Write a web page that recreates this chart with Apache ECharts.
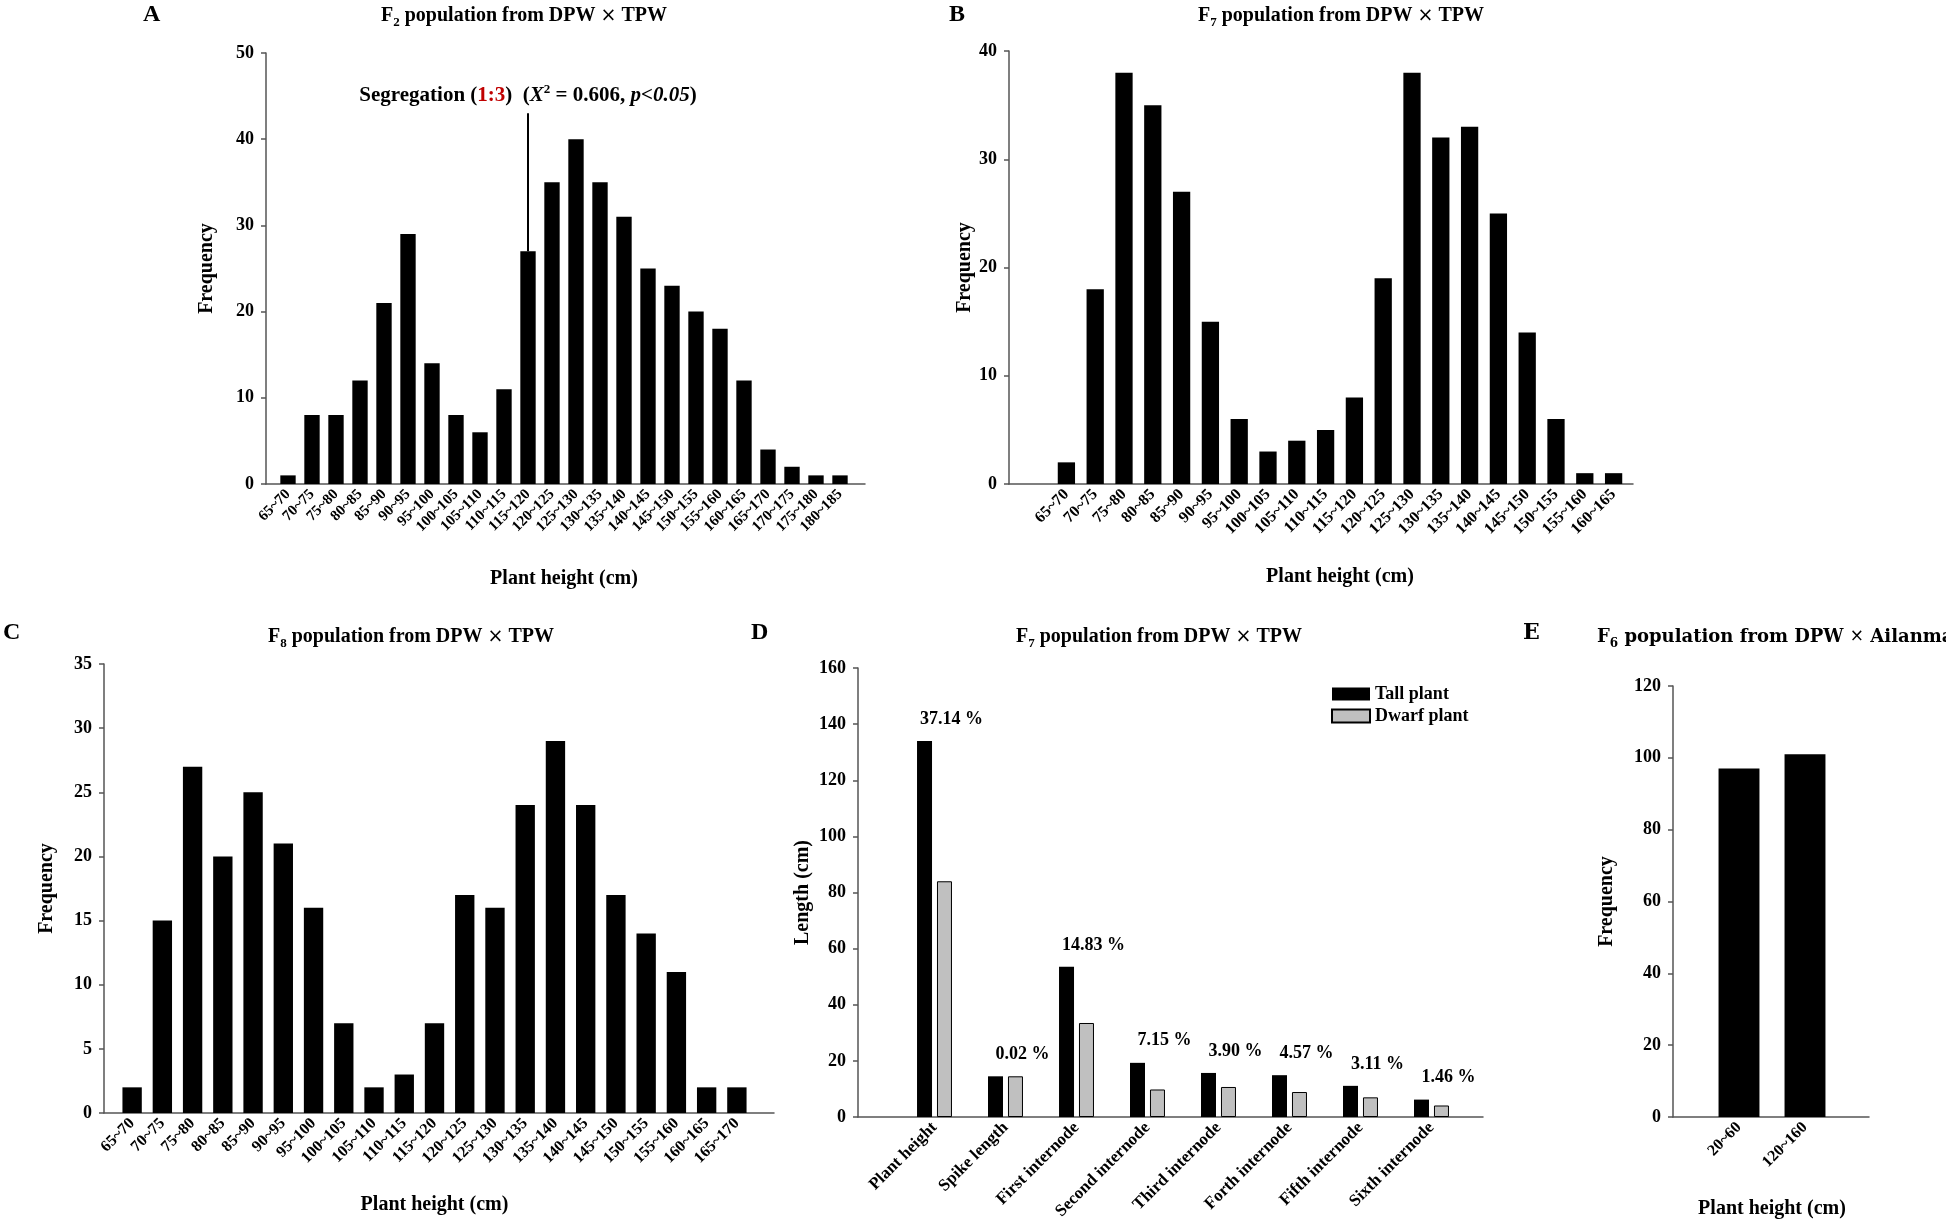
<!DOCTYPE html>
<html>
<head>
<meta charset="utf-8">
<script src="https://cdn.jsdelivr.net/npm/echarts@6/dist/echarts.min.js"></script>
<style>
html,body{margin:0;padding:0;background:#fff;}
#c{width:1946px;height:1226px;}
</style>
</head>
<body>
<div id="c"></div>
<script>
// ---------------- DATA ----------------
const catsA = ['65~70','70~75','75~80','80~85','85~90','90~95','95~100','100~105','105~110','110~115','115~120','120~125','125~130','130~135','135~140','140~145','145~150','150~155','155~160','160~165','165~170','170~175','175~180','180~185'];
const valsA = [1,8,8,12,21,29,14,8,6,11,27,35,40,35,31,25,23,20,18,12,4,2,1,1];
const ticksA = [0,10,20,30,40,50];

const catsB = ['65~70','70~75','75~80','80~85','85~90','90~95','95~100','100~105','105~110','110~115','115~120','120~125','125~130','130~135','135~140','140~145','145~150','150~155','155~160','160~165'];
const valsB = [2,18,38,35,27,15,6,3,4,5,8,19,38,32,33,25,14,6,1,1];
const ticksB = [0,10,20,30,40];

const catsC = ['65~70','70~75','75~80','80~85','85~90','90~95','95~100','100~105','105~110','110~115','115~120','120~125','125~130','130~135','135~140','140~145','145~150','150~155','155~160','160~165','165~170'];
const valsC = [2,15,27,20,25,21,16,7,2,3,7,17,16,24,29,24,17,14,11,2,2];
const ticksC = [0,5,10,15,20,25,30,35];

const traitsD = ['Plant height','Spike length','First internode','Second internode','Third internode','Forth internode','Fifth internode','Sixth internode'];
const tallD  = [134,14.5,53.5,19.3,15.7,14.9,11.1,6.2];
const dwarfD = [84,14.5,33.5,9.8,10.7,8.9,7.0,4.1];
const pctD   = ['37.14 %','0.02 %','14.83 %','7.15 %','3.90 %','4.57 %','3.11 %','1.46 %'];
const ticksD = [0,20,40,60,80,100,120,140,160];

const catsE = ['20~60','120~160'];
const valsE = [97,101];
const ticksE = [0,20,40,60,80,100,120];

// segregation annotation on panel A (category, start value, end value)
const annotCat = '115~120';
const annotFrom = 43;
const annotTo = 27;

// ---------------- STYLE ----------------
const FF = "'Liberation Serif','Times New Roman',serif";
const AX = '#555';

const chart = echarts.init(document.getElementById('c'));
const grid = [], xAxis = [], yAxis = [], series = [];

function panel(cfg) {
  const oi = grid.length, ii = oi + 1;
  const ticks = cfg.ticks;
  const ymin = ticks[0], ymax = ticks[ticks.length - 1], step = ticks[1] - ticks[0];
  grid.push({left: cfg.left, top: cfg.top, width: cfg.width, height: cfg.height});
  grid.push({left: cfg.innerLeft, top: cfg.top, width: cfg.innerWidth, height: cfg.height});
  xAxis.push({type: 'value', gridIndex: oi, min: 0, max: 1, show: true,
    axisLine: {show: true, lineStyle: {color: AX, width: 1.5}}, axisTick: {show: false},
    axisLabel: {show: false}, splitLine: {show: false}});
  xAxis.push({type: 'category', gridIndex: ii, data: cfg.cats,
    axisLine: {show: false}, axisTick: {show: false},
    axisLabel: {rotate: 45, interval: 0, margin: cfg.labelMargin || 8, color: '#000',
      fontFamily: FF, fontWeight: 'bold', fontSize: cfg.xFont || 16},
    name: cfg.xName || '', nameLocation: 'middle', nameGap: cfg.xNameGap || 84,
    nameTextStyle: {fontFamily: FF, fontWeight: 'bold', fontSize: 20, color: '#000'}});
  yAxis.push({type: 'value', gridIndex: oi, min: ymin, max: ymax, interval: step,
    axisLine: {show: true, lineStyle: {color: AX, width: 1.5}},
    axisTick: {show: true, inside: false, length: 5, lineStyle: {color: AX, width: 1.5}},
    axisLabel: {margin: 12, color: '#000', fontFamily: FF, fontWeight: 'bold', fontSize: 18},
    splitLine: {show: false},
    name: cfg.yName, nameLocation: 'middle', nameGap: cfg.yNameGap,
    nameTextStyle: {fontFamily: FF, fontWeight: 'bold', fontSize: 20, color: '#000'}});
  yAxis.push({type: 'value', gridIndex: ii, min: ymin, max: ymax, interval: step, show: false,
    splitLine: {show: false}});
  return ii;
}

function simpleBars(ii, vals, gap, extra) {
  const sr = Object.assign({type: 'bar', xAxisIndex: ii, yAxisIndex: ii, data: vals,
    barCategoryGap: gap, itemStyle: {color: '#000'}, silent: true, animation: false}, extra || {});
  series.push(sr);
}

// Panel A
const iA = panel({cats: catsA, ticks: ticksA, left: 266, top: 53, width: 599, height: 431,
  innerLeft: 276, innerWidth: 576,
  yName: 'Frequency', yNameGap: 49, xName: 'Plant height (cm)', xNameGap: 85, xFont: 15});
simpleBars(iA, valsA, '36%', {
  markLine: {
    symbol: 'none', silent: true, animation: false,
    lineStyle: {color: '#000', width: 2, type: 'solid'},
    label: {show: true, position: 'start', distance: 6,
      formatter: '{a|Segregation (}{r|1:3}{a|)  (}{i|X}{sup|2}{a| = 0.606, }{i|p<0.05}{a|)}',
      rich: {
        a: {fontFamily: FF, fontWeight: 'bold', fontSize: 21, color: '#000', lineHeight: 24},
        r: {fontFamily: FF, fontWeight: 'bold', fontSize: 21, color: '#c00000', lineHeight: 24},
        i: {fontFamily: FF, fontWeight: 'bold', fontStyle: 'italic', fontSize: 21, color: '#000', lineHeight: 24},
        sup: {fontFamily: FF, fontWeight: 'bold', fontSize: 13, color: '#000', lineHeight: 13, verticalAlign: 'top'}
      }},
    data: [[{coord: [annotCat, annotFrom]}, {coord: [annotCat, annotTo]}]]
  }
});

// Panel B
const iB = panel({cats: catsB, ticks: ticksB, left: 1009, top: 51, width: 624, height: 433,
  innerLeft: 1052, innerWidth: 576,
  yName: 'Frequency', yNameGap: 32, xName: 'Plant height (cm)', xNameGap: 83, xFont: 16});
simpleBars(iB, valsB, '40%');

// Panel C
const iC = panel({cats: catsC, ticks: ticksC, left: 104, top: 664, width: 670, height: 449,
  innerLeft: 117, innerWidth: 635,
  yName: 'Frequency', yNameGap: 47, xName: 'Plant height (cm)', xNameGap: 82, xFont: 16});
simpleBars(iC, valsC, '36%');

// Panel D
const iD = panel({cats: traitsD, ticks: ticksD, left: 858, top: 668, width: 625, height: 449,
  innerLeft: 899, innerWidth: 568,
  yName: 'Length (cm)', yNameGap: 45, xFont: 17});
series.push({type: 'bar', name: 'Tall plant', xAxisIndex: iD, yAxisIndex: iD, data: tallD,
  barWidth: 15, barGap: '33%', itemStyle: {color: '#000'}, silent: true, animation: false,
  label: {show: true, position: 'top', distance: 13, offset: [27, 0],
    formatter: p => pctD[p.dataIndex],
    fontFamily: FF, fontWeight: 'bold', fontSize: 18, color: '#000'}});
series.push({type: 'bar', name: 'Dwarf plant', xAxisIndex: iD, yAxisIndex: iD, data: dwarfD,
  barWidth: 15, barGap: '33%', itemStyle: {color: '#c0c0c0', borderColor: '#000', borderWidth: 1},
  silent: true, animation: false});

// Panel E
const iE = panel({cats: catsE, ticks: ticksE, left: 1673, top: 686, width: 196, height: 431,
  innerLeft: 1706, innerWidth: 132,
  yName: 'Frequency', yNameGap: 56, xName: 'Plant height (cm)', xNameGap: 82, xFont: 16});
simpleBars(iE, valsE, '38%');

const titleStyle = (size, fam) => ({fontFamily: fam || FF, fontWeight: 'bold', fontSize: size, color: '#000'});
function richFor(fam, size) {
  return {
    a: {fontFamily: fam, fontWeight: 'bold', fontSize: size, color: '#000', lineHeight: 26},
    s: {fontFamily: fam, fontWeight: 'bold', fontSize: Math.round(size * 0.65), color: '#000', lineHeight: 14, verticalAlign: 'bottom'},
    x: {fontFamily: "'DejaVu Sans',sans-serif", fontWeight: 'normal', fontSize: size - 1, color: '#000', lineHeight: 26}
  };
}
function mkTitle(sub, rest, after, x, top, align, fam, size) {
  return {text: '{a|F}{s|' + sub + '}{a|' + rest + '}{x|×}{a|' + after + '}',
    left: x, top: top, textAlign: align || 'center', textStyle: {rich: richFor(fam || FF, size || 20)}};
}
const SERIF2 = "'DejaVu Serif',serif";
const titles = [
  {text: 'A', left: 138, top: -2, textStyle: titleStyle(24)},
  {text: 'B', left: 944, top: -2, textStyle: titleStyle(24)},
  {text: 'C', left: -2, top: 616, textStyle: titleStyle(24)},
  {text: 'D', left: 746, top: 616, textStyle: titleStyle(24)},
  {text: 'E', left: 1518, top: 617, textStyle: titleStyle(22, SERIF2)},
  mkTitle('2', ' population from DPW ', ' TPW', 519, -2),
  mkTitle('7', ' population from DPW ', ' TPW', 1336, -2),
  mkTitle('8', ' population from DPW ', ' TPW', 406, 619),
  mkTitle('7', ' population from DPW ', ' TPW', 1154, 619),
  mkTitle('6', ' population from DPW ', ' Ailanmai', 1592, 619, 'left', SERIF2, 18)
];

chart.setOption({
  animation: false,
  backgroundColor: '#fff',
  title: titles,
  legend: {data: ['Tall plant', 'Dwarf plant'], orient: 'vertical', left: 1326, top: 680,
    itemWidth: 38, itemHeight: 13, itemGap: 4, icon: 'rect',
    textStyle: {fontFamily: FF, fontWeight: 'bold', fontSize: 18, color: '#000'}},
  grid: grid, xAxis: xAxis, yAxis: yAxis, series: series
});
</script>
</body>
</html>
